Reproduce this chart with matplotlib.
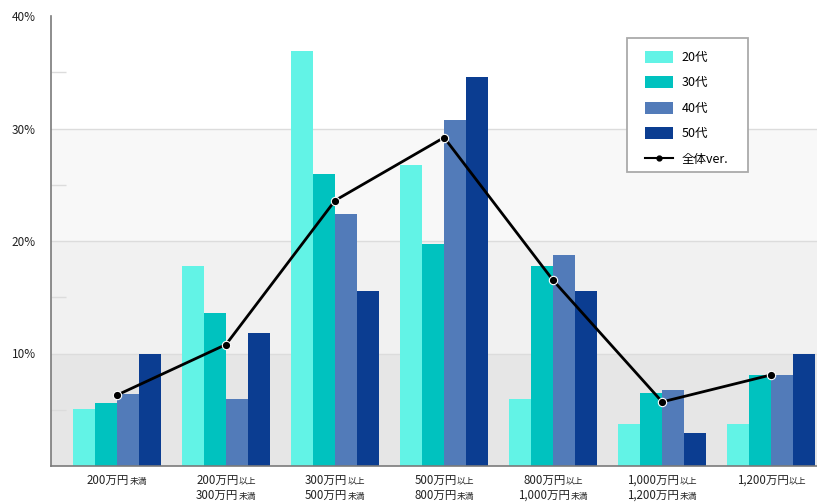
import numpy as np
import matplotlib
matplotlib.use("Agg")
import matplotlib.pyplot as plt
from matplotlib.lines import Line2D
from matplotlib.patches import Rectangle
from matplotlib.offsetbox import TextArea, HPacker, VPacker, AnnotationBbox

plt.rcParams['font.family'] = ['Noto Sans CJK JP', 'DejaVu Sans']

# data (%)
categories = [
    [("200万円", "未満")],
    [("200万円", "以上"), ("300万円", "未満")],
    [("300万円", "以上"), ("500万円", "未満")],
    [("500万円", "以上"), ("800万円", "未満")],
    [("800万円", "以上"), ("1,000万円", "未満")],
    [("1,000万円", "以上"), ("1,200万円", "未満")],
    [("1,200万円", "以上")],
]
age_labels = ["20代", "30代", "40代", "50代"]
v20 = [5.1, 17.8, 36.9, 26.8, 6.0, 3.7, 3.7]
v30 = [5.6, 13.6, 26.0, 19.7, 17.8, 6.5, 8.1]
v40 = [6.4, 6.0, 22.4, 30.8, 18.8, 6.8, 8.1]
v50 = [10.0, 11.8, 15.6, 34.6, 15.6, 2.9, 10.0]
total = [6.3, 10.8, 23.6, 29.2, 16.5, 5.7, 8.1]
total_label = "全体ver."

colors = ["#62f3e6", "#00c2bf", "#527bb9", "#0b3d91"]

W, H = 817, 503
fig = plt.figure(figsize=(W/100, H/100), dpi=100)
ax = fig.add_axes([51/W, 37/H, 766/W, 450/H])

# background bands
band_cols = ["#e6e6e6", "#f1f1f1", "#f8f8f8", "#ffffff"]
for i, c in enumerate(band_cols):
    ax.axhspan(i*10, (i+1)*10, color=c, zorder=0, lw=0)
for y in [10, 20, 30]:
    ax.axhline(y, color="#dcdcdc", lw=1, zorder=0.5)

x = np.arange(len(categories))
w = 0.2018
series = [v20, v30, v40, v50]
bars = []
for i, vals in enumerate(series):
    bars.append(ax.bar(x + (i - 1.5)*w, vals, w, color=colors[i], label=age_labels[i], zorder=2))

ax.plot(x, total, color="black", lw=2, marker="o", ms=6,
        markeredgecolor="white", markeredgewidth=0.8, zorder=3)

ax.set_xlim(-0.605, 6.42)
ax.set_ylim(0, 40)
ax.set_yticks([0, 10, 20, 30, 40])
ax.set_yticklabels(["", "10%", "20%", "30%", "40%"], fontsize=8.5, color="#222")
ax.set_yticks([5, 15, 25, 35], minor=True)
ax.tick_params(axis="y", which="major", length=0, pad=11)
ax.tick_params(axis="y", which="minor", direction="in", length=11, color="#dcdcdc", width=1)
ax.set_xticks([])
for s in ["top", "right"]:
    ax.spines[s].set_visible(False)
for s in ["left", "bottom"]:
    ax.spines[s].set_color("#7a7a7a")
    ax.spines[s].set_linewidth(1.2)
    ax.spines[s].set_zorder(4)

# x labels with mixed sizes
for xi, lines in zip(x, categories):
    rows = []
    for big, small in lines:
        rows.append(HPacker(children=[
            TextArea(big, textprops=dict(fontsize=8.3, color="#222")),
            TextArea(small, textprops=dict(fontsize=6.3, color="#222"))],
            align="baseline", pad=0, sep=0))
    box = VPacker(children=rows, align="center", pad=0, sep=1.8)
    ab = AnnotationBbox(box, (xi, 0), xycoords=("data", "axes fraction"),
                        xybox=(0, -5.5), boxcoords="offset points",
                        box_alignment=(0.5, 1.0), frameon=False)
    ax.add_artist(ab)

# legend: fixed box + frameless legend
fig.patches.append(Rectangle((627/W, 1 - 172/H), 121/W, 134/H, transform=fig.transFigure,
                             facecolor="white", edgecolor="#aaaaaa", lw=1.3, zorder=5))
leg_line = Line2D([], [], color="black", lw=1.5, marker="o", ms=3.5)
leg = fig.legend(bars + [leg_line], age_labels + [total_label],
                 loc="upper left", bbox_to_anchor=(645/W, 1 - 50.5/H),
                 bbox_transform=fig.transFigure, fontsize=9, frameon=False,
                 handlelength=2.2, handleheight=1.1, labelspacing=0.98, borderpad=0,
                 handletextpad=0.75, borderaxespad=0)
leg.set_zorder(6)

fig.savefig("out.png", dpi=100)
